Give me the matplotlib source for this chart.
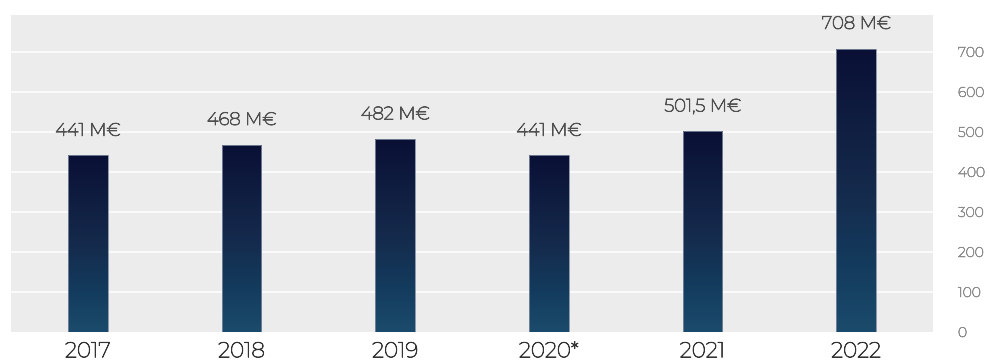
import matplotlib
matplotlib.use("Agg")
import matplotlib.pyplot as plt
import matplotlib.patheffects as pe
import numpy as np
from matplotlib.colors import LinearSegmentedColormap

years = ["2017", "2018", "2019", "2020*", "2021", "2022"]
revenue = [441, 468, 482, 441, 501.5, 708]
value_labels = ["441 M€", "468 M€", "482 M€", "441 M€", "501,5 M€", "708 M€"]
y_ticks = [0, 100, 200, 300, 400, 500, 600, 700]

plt.rcParams["font.family"] = ["Montserrat", "Lato", "DejaVu Sans"]


def bolder(color, w):
    # the installed Montserrat is very thin; a stroke of the same colour thickens it
    return [pe.withStroke(linewidth=w, foreground=color)]


fig = plt.figure(figsize=(9.9, 3.6), dpi=100)
ax = fig.add_axes([11 / 990, 28 / 360, 922 / 990, 317 / 360])
ax.set_facecolor("#ececec")

ax.set_xlim(-0.5, len(years) - 0.5)
ax.set_ylim(0, 792)

for t in y_ticks[1:]:
    ax.axhline(t, color="white", lw=1.1, zorder=1)

grad = LinearSegmentedColormap.from_list(
    "navy", ["#1b4b6c", "#133a5c", "#152a4c", "#0f1d40", "#0a1035"])
gradient = np.linspace(0, 1, 256).reshape(-1, 1)

bar_w = 0.26
bars = ax.bar(range(len(years)), revenue, width=bar_w, color="none",
              edgecolor="#7d8aa0", linewidth=0.6, zorder=3)
for b in bars:
    x0, h = b.get_x(), b.get_height()
    im = ax.imshow(gradient, cmap=grad, origin="lower", aspect="auto",
                   extent=(x0, x0 + bar_w, 0, h), zorder=2)
    im.set_clip_path(b)

for i, (v, lab) in enumerate(zip(revenue, value_labels)):
    ax.annotate(lab, (i, v), xytext=(0, 12), textcoords="offset points",
                ha="center", va="bottom", fontsize=13, color="#505050",
                path_effects=bolder("#505050", 0.6))

ax.set_xticks(range(len(years)))
ax.set_xticklabels(years, fontsize=15.5, color="#333333")
ax.set_yticks(y_ticks)
ax.set_yticklabels([str(t) for t in y_ticks], fontsize=10, color="#8c8c8c")
ax.yaxis.tick_right()
ax.tick_params(axis="y", length=0, pad=18)
ax.tick_params(axis="x", length=0, pad=6)
for t in ax.xaxis.get_ticklabels():
    t.set_path_effects(bolder("#333333", 0.55))
for t in ax.yaxis.get_ticklabels():
    t.set_path_effects(bolder("#8c8c8c", 0.45))
for s in ax.spines.values():
    s.set_visible(False)

fig.savefig("out.png", dpi=100, facecolor="white")
